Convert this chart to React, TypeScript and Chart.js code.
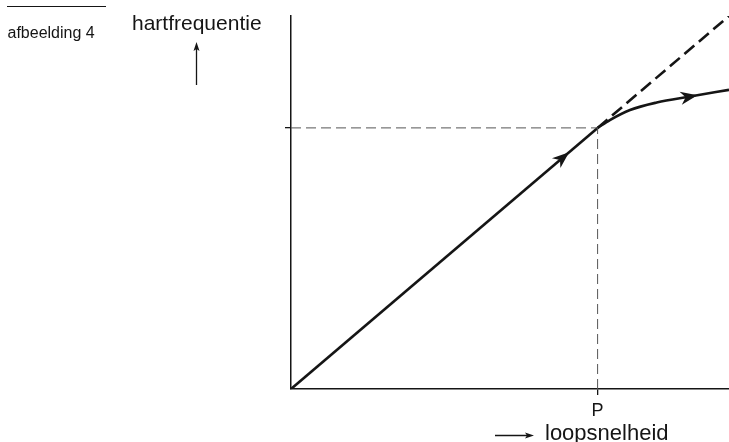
import React, { useEffect, useRef } from 'react';
import { Chart, registerables } from 'chart.js';

Chart.register(...registerables);

// ---- data (arbitrary units 0..100) ----
const speedLinear = [0, 70];
const heartLinear = [0, 70];
const speedExtrapolated = [70, 100];
const heartExtrapolated = [70, 100];
const speedCurve = [70, 72.8, 77.4, 83.5, 91.1, 100];
const heartCurve = [70, 72.1, 74.8, 76.8, 78.4, 80.2];
const pointP = 70; // loopsnelheid at P
const heartAtP = 70; // hartfrequentie at P
const xTickLabels = ['P'];
const yAxisTitle = 'hartfrequentie';
const xAxisTitle = 'loopsnelheid';
const figureLabel = 'afbeelding 4';
const arrowOnLineAt = 63.5; // speed where the arrow on the straight part sits
const arrowOnCurveAt = 92.8; // speed where the arrow on the curve sits

const FONT = '"Liberation Sans", Arial, Helvetica, sans-serif';
const INK = '#151515';

const zip = (xs: number[], ys: number[]) => xs.map((x, i) => ({ x, y: ys[i] }));

function dart(ctx: CanvasRenderingContext2D, x: number, y: number, angle: number, len: number, half: number, notch: number) {
  ctx.save();
  ctx.translate(x, y);
  ctx.rotate(angle);
  ctx.beginPath();
  ctx.moveTo(0, 0);
  ctx.lineTo(-len, -half);
  ctx.lineTo(-len + notch, 0);
  ctx.lineTo(-len, half);
  ctx.closePath();
  ctx.fill();
  ctx.restore();
}

function interp(xs: number[], ys: number[], x: number) {
  for (let i = 0; i < xs.length - 1; i++) {
    if (x >= xs[i] && x <= xs[i + 1]) {
      const t = (x - xs[i]) / (xs[i + 1] - xs[i]);
      return ys[i] + t * (ys[i + 1] - ys[i]);
    }
  }
  return ys[ys.length - 1];
}

const decorations = {
  id: 'decorations',
  afterDatasetsDraw(chart: any) {
    const ctx: CanvasRenderingContext2D = chart.ctx;
    const xs = chart.scales.x;
    const ys = chart.scales.y;
    ctx.save();
    ctx.fillStyle = INK;
    // arrow on the straight part
    {
      const px = xs.getPixelForValue(arrowOnLineAt);
      const py = ys.getPixelForValue(arrowOnLineAt);
      const ang = Math.atan2(
        ys.getPixelForValue(heartAtP) - ys.getPixelForValue(0),
        xs.getPixelForValue(pointP) - xs.getPixelForValue(0)
      );
      dart(ctx, px, py, ang, 17, 6.5, 5);
    }
    // arrow on the curve
    {
      const yv = interp(speedCurve, heartCurve, arrowOnCurveAt);
      const px = xs.getPixelForValue(arrowOnCurveAt);
      const py = ys.getPixelForValue(yv);
      const ang = Math.atan2(
        ys.getPixelForValue(heartCurve[5]) - ys.getPixelForValue(heartCurve[3]),
        xs.getPixelForValue(speedCurve[5]) - xs.getPixelForValue(speedCurve[3])
      );
      dart(ctx, px, py, ang, 17, 6.5, 5);
    }
    // tick label P under the x axis
    ctx.font = `18px ${FONT}`;
    ctx.textAlign = 'center';
    ctx.textBaseline = 'alphabetic';
    ctx.fillText(xTickLabels[0], xs.getPixelForValue(pointP), 416);
    ctx.restore();
  },
  afterDraw(chart: any) {
    const ctx: CanvasRenderingContext2D = chart.ctx;
    ctx.save();
    ctx.strokeStyle = INK;
    ctx.fillStyle = INK;
    ctx.lineWidth = 1;
    // rule above the figure label
    ctx.beginPath();
    ctx.moveTo(7, 6.5);
    ctx.lineTo(106, 6.5);
    ctx.stroke();
    ctx.textBaseline = 'alphabetic';
    ctx.textAlign = 'left';
    ctx.font = `16px ${FONT}`;
    ctx.fillText(figureLabel, 7.5, 37.5);
    // y axis title with up arrow
    ctx.font = `21px ${FONT}`;
    ctx.fillText(yAxisTitle, 132, 30);
    ctx.lineWidth = 1.3;
    ctx.beginPath();
    ctx.moveTo(196.5, 85);
    ctx.lineTo(196.5, 48);
    ctx.stroke();
    dart(ctx, 196.5, 42, -Math.PI / 2, 9, 3, 2);
    // x axis title with right arrow
    ctx.font = `22px ${FONT}`;
    ctx.fillText(xAxisTitle, 545, 440);
    ctx.beginPath();
    ctx.moveTo(495, 435.5);
    ctx.lineTo(528, 435.5);
    ctx.stroke();
    dart(ctx, 534, 435.5, 0, 9, 3, 2);
    ctx.restore();
  },
};

export default function App() {
  const ref = useRef<HTMLCanvasElement | null>(null);

  useEffect(() => {
    if (!ref.current) return;
    const chart = new Chart(ref.current, {
      type: 'scatter',
      data: {
        datasets: [
          {
            label: 'reference-h',
            data: [{ x: 0, y: heartAtP }, { x: pointP, y: heartAtP }],
            showLine: true,
            borderColor: '#555',
            borderWidth: 1,
            borderDash: [10, 5],
            pointRadius: 0,
          },
          {
            label: 'reference-v',
            data: [{ x: pointP, y: 0 }, { x: pointP, y: heartAtP }],
            showLine: true,
            borderColor: '#555',
            borderWidth: 1,
            borderDash: [10, 5],
            pointRadius: 0,
          },
          {
            label: 'extrapolated',
            data: zip(speedExtrapolated, heartExtrapolated),
            showLine: true,
            borderColor: INK,
            borderWidth: 2.6,
            borderDash: [13, 6],
            pointRadius: 0,
          },
          {
            label: 'linear',
            data: zip(speedLinear, heartLinear),
            showLine: true,
            borderColor: INK,
            borderWidth: 2.6,
            pointRadius: 0,
          },
          {
            label: 'curve',
            data: zip(speedCurve, heartCurve),
            showLine: true,
            borderColor: INK,
            borderWidth: 2.6,
            cubicInterpolationMode: 'monotone',
            pointRadius: 0,
          },
        ],
      },
      options: {
        animation: false,
        responsive: false,
        events: [],
        layout: { padding: { left: 291, top: 16, right: 0, bottom: 53 } },
        plugins: { legend: { display: false }, tooltip: { enabled: false } },
        scales: {
          x: {
            type: 'linear',
            min: 0,
            max: 100,
            afterFit: (s: any) => { s.height = 0; },
            afterBuildTicks: (s: any) => { s.ticks = [{ value: pointP }]; },
            grid: { display: true, drawOnChartArea: false, drawTicks: true, tickLength: 6, color: INK, lineWidth: 1.3 },
            border: { display: true, color: INK, width: 1.5 },
            ticks: { display: false },
          },
          y: {
            type: 'linear',
            min: 0,
            max: 100,
            afterFit: (s: any) => { s.width = 0; },
            afterBuildTicks: (s: any) => { s.ticks = [{ value: heartAtP }]; },
            grid: { display: true, drawOnChartArea: false, drawTicks: true, tickLength: 6, color: INK, lineWidth: 1.3 },
            border: { display: true, color: INK, width: 1.5 },
            ticks: { display: false },
          },
        },
      } as any,
      plugins: [decorations],
    });
    return () => chart.destroy();
  }, []);

  return (
    <div style={{ position: 'fixed', left: 0, top: 0, width: 729, height: 442, background: '#fff' }}>
      <canvas ref={ref} width={729} height={442} style={{ display: 'block' }} />
    </div>
  );
}
